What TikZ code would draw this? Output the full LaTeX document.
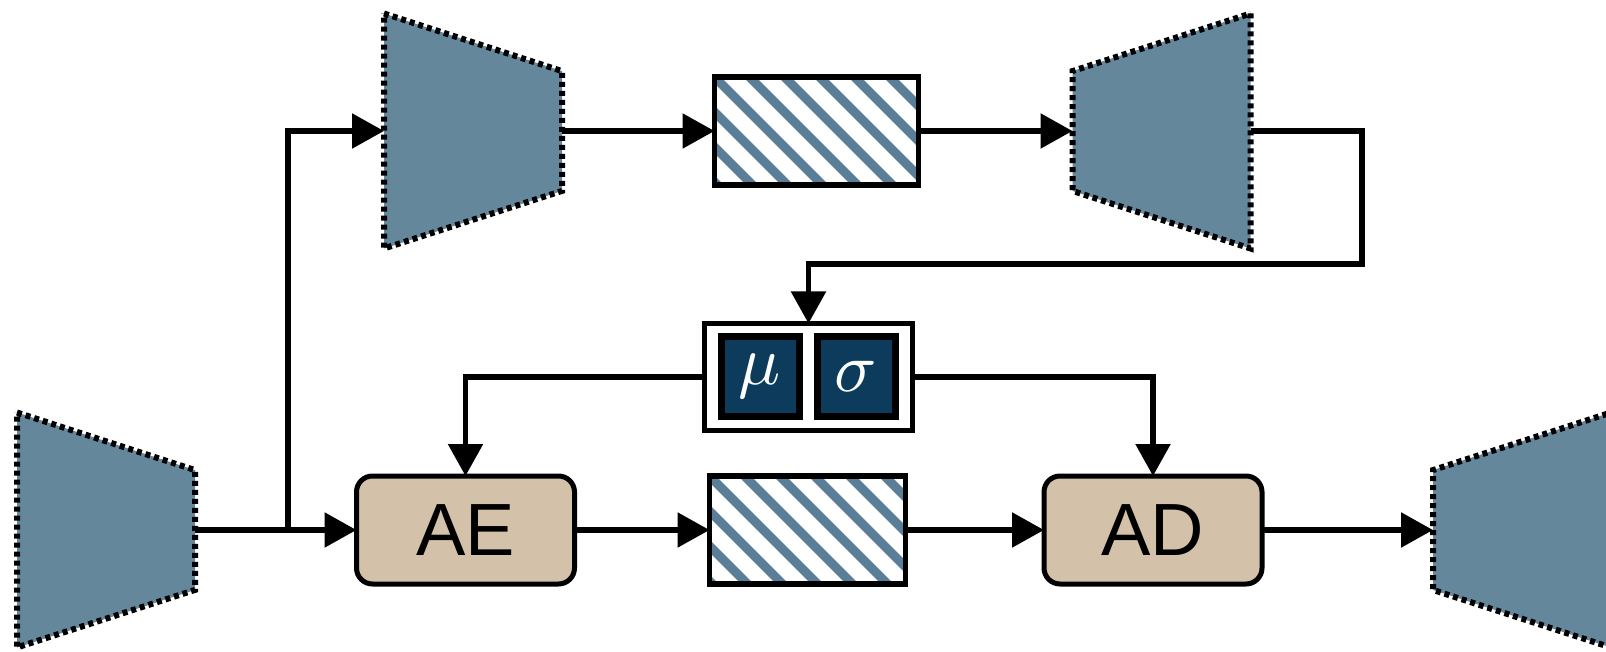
\documentclass[tikz,border=0pt]{standalone}
\usepackage{fontspec}
\setmainfont{Liberation Sans}
\usetikzlibrary{arrows.meta,calc}
\definecolor{trapblue}{HTML}{65879B}
\definecolor{stripeblue}{HTML}{5A7E98}
\definecolor{aetan}{HTML}{D4C1AA}
\definecolor{navyfill}{HTML}{0C3B5C}
\begin{document}
\begin{tikzpicture}[x=1pt,y=-1pt,
  conn/.style={line width=5.5pt,-{Triangle[length=32pt,width=34pt]}},
  plainline/.style={line width=5.5pt},
  trapbox/.style={inner sep=0pt,outer sep=0pt,minimum width=178pt,minimum height=235pt},
  trapfill/.style={fill=trapblue,draw=black,line width=6pt,dash pattern=on 5pt off 4pt},
  stripe/.style={draw=stripeblue,line width=9pt},
  hatchbox/.style={draw=black,line width=5.5pt,fill=white,inner sep=0pt,outer sep=0pt,minimum height=108pt,
    path picture={\foreach \k in {-5,...,8}
      \draw[stripe] ($(path picture bounding box.north west)+(\k*35,0)$) -- ++(170,170);}},
  procbox/.style={draw=black,line width=5pt,fill=aetan,rounded corners=16pt,minimum width=218pt,minimum height=108pt,
    inner sep=0pt,outer sep=0pt,font=\fontsize{74}{80}\selectfont},
  latentbox/.style={draw=black,line width=5.5pt,fill=white,minimum width=208pt,minimum height=107pt,inner sep=0pt,outer sep=0pt},
  parambox/.style={draw=black,line width=7pt,fill=navyfill,text=white,minimum width=78pt,minimum height=80pt,inner sep=0pt}
]
\useasboundingbox (0,0) rectangle (1606,652);
\clip (0,0) rectangle (1606,652);

% trapezoids
\node[trapbox] (T0) at (106,530) {};
\draw[trapfill] (T0.north west) -- ($(T0.north east)!0.245!(T0.south east)$) -- ($(T0.north east)!0.755!(T0.south east)$) -- (T0.south west) -- cycle;
\node[trapbox] (T1) at (473,131) {};
\draw[trapfill] (T1.north west) -- ($(T1.north east)!0.245!(T1.south east)$) -- ($(T1.north east)!0.755!(T1.south east)$) -- (T1.south west) -- cycle;
\node[trapbox] (T2) at (1161.5,131) {};
\draw[trapfill] (T2.north east) -- (T2.south east) -- ($(T2.north west)!0.755!(T2.south west)$) -- ($(T2.north west)!0.245!(T2.south west)$) -- cycle;
\node[trapbox] (T3) at (1522,530) {};
\draw[trapfill] (T3.north east) -- (T3.south east) -- ($(T3.north west)!0.755!(T3.south west)$) -- ($(T3.north west)!0.245!(T3.south west)$) -- cycle;

% hatched boxes
\node[hatchbox,minimum width=204pt] (H1) at (816.5,131) {};
\node[hatchbox,minimum width=196pt] (H2) at (807.5,530) {};

% process boxes
\node[procbox] (AE) at (465.5,530) {AE};
\node[procbox] (AD) at (1153,530) {AD};

% latent parameters
\node[latentbox] (LS) at (808.5,377) {};
\node[parambox] (MU) at (760,376.5) {\scalebox{7}{$\mu$}};
\node[parambox] (SG) at (856,376.5) {\scalebox{7}{$\sigma$}};

% connectors
\coordinate (br) at (288,530);
\coordinate (c1) at (1362,131);
\coordinate (c2) at (1362,264);
\draw[plainline] (T0.east) -- (br);
\draw[conn] (br) -- (AE.west);
\draw[conn] (br) |- (T1.west);
\draw[conn] (T1.east) -- (H1.west);
\draw[conn] (H1.east) -- (T2.west);
\draw[conn] (T2.east) -- (c1) -- (c2) -| (LS.north);
\draw[conn] (LS.west) -| (AE.north);
\draw[conn] (LS.east) -| (AD.north);
\draw[conn] (AE.east) -- (H2.west);
\draw[conn] (H2.east) -- (AD.west);
\draw[conn] (AD.east) -- (T3.west);
\end{tikzpicture}
\end{document}
